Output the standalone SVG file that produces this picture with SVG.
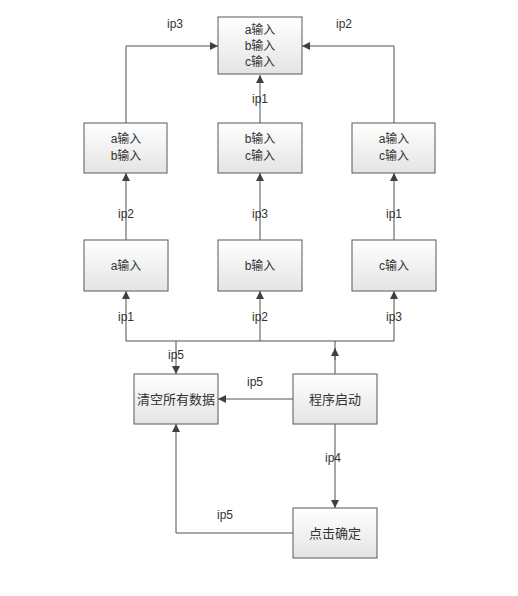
<svg xmlns="http://www.w3.org/2000/svg" width="518" height="596" viewBox="0 0 518 596">
<defs>
<linearGradient id="g" x1="0" y1="0" x2="0" y2="1">
<stop offset="0" stop-color="#ffffff"/>
<stop offset="1" stop-color="#e4e4e4"/>
</linearGradient>
<marker id="arr" viewBox="0 0 10 10" refX="10" refY="5" markerWidth="8" markerHeight="8" markerUnits="userSpaceOnUse" orient="auto">
<path d="M0,0 L10,5 L0,10 z" fill="#404040"/>
</marker>
</defs>
<style>
.box{fill:url(#g);stroke:#595959;stroke-width:1}
.t{font-family:"Liberation Sans","Noto Sans CJK SC",sans-serif;font-size:12px;fill:#333;text-anchor:middle}
.tb{font-family:"Noto Sans CJK SC",sans-serif;font-size:13px;fill:#333;text-anchor:middle}
.l{font-family:"Liberation Sans",sans-serif;font-size:12px;fill:#333;text-anchor:middle}
.c{fill:none;stroke:#505050;stroke-width:1}
</style>
<rect width="518" height="596" fill="#ffffff"/>
<g id="connectors">
<path class="c" d="M126,123 V46 H218" marker-end="url(#arr)"/>
<path class="c" d="M394,123 V46 H302" marker-end="url(#arr)"/>
<path class="c" d="M260,123 V75" marker-end="url(#arr)"/>
<path class="c" d="M126,240 V173" marker-end="url(#arr)"/>
<path class="c" d="M260,240 V173" marker-end="url(#arr)"/>
<path class="c" d="M394,240 V173" marker-end="url(#arr)"/>
<path class="c" d="M126,341 V291" marker-end="url(#arr)"/>
<path class="c" d="M260,341 V291" marker-end="url(#arr)"/>
<path class="c" d="M394,341 V291" marker-end="url(#arr)"/>
<path class="c" d="M126,341 H394"/>
<path class="c" d="M176,341 V374" marker-end="url(#arr)"/>
<path class="c" d="M335,374 V341"/>
<path class="c" d="M335,360 V348" marker-end="url(#arr)"/>
<path class="c" d="M293,399 H218" marker-end="url(#arr)"/>
<path class="c" d="M335,424 V508" marker-end="url(#arr)"/>
<path class="c" d="M293,533 H176 V424" marker-end="url(#arr)"/>
<text class="l" x="175" y="28">ip3</text>
<text class="l" x="344" y="28">ip2</text>
<text class="l" x="260" y="103">ip1</text>
<text class="l" x="126" y="218">ip2</text>
<text class="l" x="260" y="218">ip3</text>
<text class="l" x="394" y="218">ip1</text>
<text class="l" x="126" y="321">ip1</text>
<text class="l" x="260" y="321">ip2</text>
<text class="l" x="394" y="321">ip3</text>
<text class="l" x="176" y="359">ip5</text>
<text class="l" x="255" y="386">ip5</text>
<text class="l" x="333" y="462">ip4</text>
<text class="l" x="225" y="519">ip5</text>
</g>
<g id="n_abc">
<rect class="box" x="218" y="17" width="84" height="57"/>
<text class="t" x="260" y="34">a输入</text>
<text class="t" x="260" y="50">b输入</text>
<text class="t" x="260" y="66">c输入</text>
</g>
<g id="n_ab">
<rect class="box" x="84" y="123" width="83" height="50"/>
<text class="t" x="126" y="143">a输入</text>
<text class="t" x="126" y="160">b输入</text>
</g>
<g id="n_bc">
<rect class="box" x="218" y="123" width="84" height="50"/>
<text class="t" x="260" y="143">b输入</text>
<text class="t" x="260" y="160">c输入</text>
</g>
<g id="n_ac">
<rect class="box" x="352" y="123" width="83" height="50"/>
<text class="t" x="394" y="143">a输入</text>
<text class="t" x="394" y="160">c输入</text>
</g>
<g id="n_a">
<rect class="box" x="84" y="240" width="84" height="51"/>
<text class="t" x="126" y="270">a输入</text>
</g>
<g id="n_b">
<rect class="box" x="218" y="240" width="84" height="51"/>
<text class="t" x="260" y="270">b输入</text>
</g>
<g id="n_c">
<rect class="box" x="352" y="240" width="84" height="51"/>
<text class="t" x="394" y="270">c输入</text>
</g>
<g id="n_clear">
<rect class="box" x="134" y="374" width="84" height="50"/>
<text class="tb" x="176" y="404">清空所有数据</text>
</g>
<g id="n_start">
<rect class="box" x="293" y="374" width="84" height="50"/>
<text class="tb" x="335" y="404">程序启动</text>
</g>
<g id="n_ok">
<rect class="box" x="293" y="508" width="84" height="50"/>
<text class="tb" x="335" y="538">点击确定</text>
</g>
</svg>
